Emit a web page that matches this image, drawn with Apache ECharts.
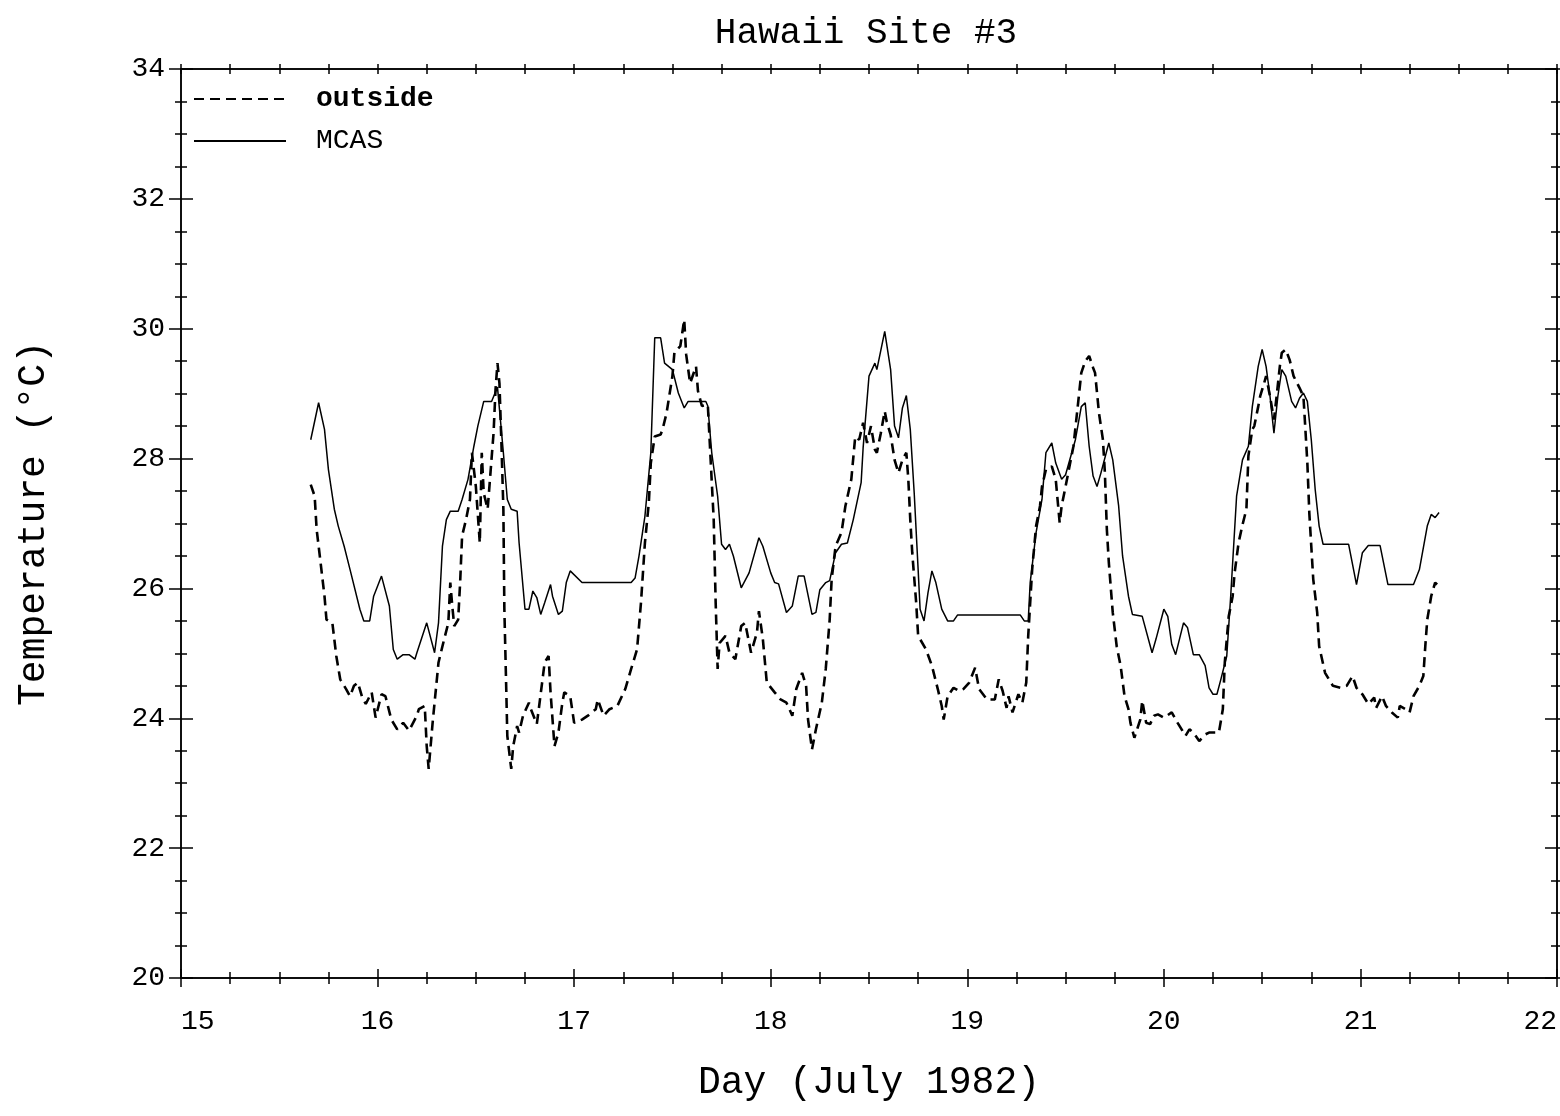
<!DOCTYPE html>
<html>
<head>
<meta charset="utf-8">
<title>Hawaii Site #3</title>
<script src="https://cdn.jsdelivr.net/npm/echarts@6/dist/echarts.min.js"></script>
<style>
  html, body { margin: 0; padding: 0; background: #fff; }
  #chart { width: 1560px; height: 1116px; }
</style>
</head>
<body>
<div id="chart"></div>
<script>
// outside air temperature (dashed)
var outsideDay = [15.66,15.68,15.69,15.71,15.73,15.74,15.77,15.79,15.81,15.84,15.86,15.88,15.90,15.92,15.94,15.97,15.99,16.02,16.04,16.07,16.10,16.13,16.16,16.20,16.21,16.24,16.25,16.26,16.28,16.31,16.33,16.36,16.37,16.38,16.39,16.41,16.42,16.43,16.45,16.47,16.48,16.50,16.52,16.53,16.54,16.56,16.59,16.60,16.61,16.62,16.63,16.64,16.645,16.655,16.66,16.68,16.69,16.71,16.72,16.74,16.77,16.78,16.81,16.82,16.85,16.87,16.88,16.90,16.92,16.94,16.95,16.98,17.00,17.04,17.07,17.11,17.12,17.15,17.18,17.22,17.26,17.29,17.32,17.34,17.36,17.38,17.39,17.41,17.44,17.45,17.47,17.50,17.51,17.54,17.56,17.57,17.59,17.62,17.63,17.65,17.68,17.69,17.71,17.72,17.73,17.74,17.77,17.79,17.82,17.85,17.87,17.90,17.93,17.94,17.96,17.98,18.02,18.05,18.08,18.11,18.13,18.16,18.18,18.19,18.21,18.23,18.26,18.28,18.30,18.31,18.33,18.36,18.38,18.41,18.43,18.45,18.47,18.49,18.51,18.53,18.54,18.56,18.58,18.59,18.61,18.63,18.65,18.67,18.69,18.70,18.71,18.72,18.74,18.75,18.79,18.82,18.85,18.87,18.88,18.90,18.93,18.96,18.98,19.01,19.04,19.06,19.10,19.14,19.16,19.18,19.20,19.21,19.23,19.26,19.28,19.30,19.31,19.32,19.33,19.35,19.37,19.38,19.40,19.43,19.45,19.47,19.48,19.50,19.54,19.56,19.58,19.60,19.62,19.64,19.65,19.67,19.69,19.70,19.71,19.72,19.74,19.76,19.78,19.80,19.82,19.83,19.85,19.88,19.89,19.91,19.93,19.95,19.97,20.00,20.04,20.07,20.11,20.13,20.15,20.18,20.21,20.23,20.28,20.30,20.31,20.33,20.35,20.36,20.38,20.40,20.42,20.43,20.45,20.46,20.48,20.49,20.51,20.52,20.54,20.56,20.57,20.59,20.60,20.62,20.64,20.66,20.69,20.71,20.72,20.73,20.74,20.75,20.76,20.78,20.79,20.82,20.86,20.90,20.93,20.96,20.98,21.01,21.04,21.07,21.08,21.11,21.13,21.16,21.19,21.20,21.23,21.25,21.27,21.30,21.32,21.33,21.34,21.36,21.38,21.39];
var outsideTemp = [27.60,27.42,26.91,26.40,25.88,25.52,25.47,24.96,24.60,24.45,24.34,24.50,24.55,24.34,24.22,24.40,24.01,24.37,24.34,23.98,23.83,23.93,23.81,24.04,24.14,24.19,23.57,23.22,23.93,24.86,25.11,25.47,26.09,25.73,25.42,25.52,26.09,26.81,27.06,27.37,28.09,27.57,26.70,28.09,27.47,27.22,28.39,29.06,29.47,29.16,28.24,27.22,25.68,24.40,23.73,23.22,23.57,23.88,23.78,24.04,24.24,24.14,23.91,24.14,24.86,24.96,24.40,23.57,23.78,24.24,24.40,24.34,23.93,23.98,24.04,24.14,24.29,24.04,24.14,24.19,24.45,24.76,25.06,25.78,26.70,27.32,27.93,28.34,28.37,28.45,28.70,29.27,29.63,29.73,30.14,29.60,29.16,29.42,29.04,28.81,28.83,28.24,27.06,25.78,24.76,25.16,25.27,25.01,24.91,25.42,25.47,25.01,25.32,25.65,25.22,24.55,24.40,24.29,24.24,24.04,24.45,24.70,24.50,23.98,23.52,23.83,24.24,24.76,25.52,26.14,26.65,26.86,27.27,27.68,28.34,28.29,28.55,28.24,28.50,28.14,28.09,28.39,28.73,28.57,28.37,27.98,27.78,27.98,28.09,27.68,27.06,26.55,25.78,25.27,25.06,24.81,24.45,24.19,23.98,24.34,24.47,24.42,24.45,24.55,24.78,24.45,24.29,24.29,24.60,24.42,24.16,24.34,24.09,24.37,24.24,24.55,25.27,25.78,26.29,26.96,27.27,27.57,27.83,27.88,27.68,27.01,27.27,27.57,28.19,28.75,29.32,29.50,29.58,29.40,29.32,28.70,28.29,27.78,26.91,26.40,25.63,25.11,24.81,24.34,24.14,23.93,23.70,23.98,24.27,23.93,23.91,24.04,24.06,24.01,24.09,23.93,23.73,23.83,23.78,23.65,23.75,23.78,23.78,24.14,24.86,25.57,25.88,26.24,26.70,26.98,27.22,28.04,28.45,28.50,28.80,28.96,29.16,29.27,28.96,28.60,28.86,29.42,29.63,29.68,29.52,29.27,29.09,28.96,28.45,27.93,27.16,26.65,26.14,25.63,25.11,24.70,24.50,24.47,24.50,24.65,24.47,24.37,24.22,24.32,24.16,24.34,24.19,24.09,24.01,24.19,24.14,24.09,24.34,24.50,24.65,25.11,25.52,25.88,26.09,26.06];

// MCAS temperature (solid)
var mcasDay = [15.66,15.70,15.73,15.75,15.78,15.80,15.83,15.86,15.91,15.93,15.96,15.98,16.02,16.03,16.06,16.08,16.10,16.13,16.16,16.19,16.20,16.25,16.29,16.31,16.33,16.35,16.37,16.41,16.43,16.46,16.49,16.51,16.54,16.58,16.61,16.64,16.66,16.68,16.71,16.72,16.75,16.77,16.79,16.81,16.83,16.85,16.88,16.89,16.92,16.94,16.96,16.98,16.99,17.04,17.29,17.31,17.33,17.36,17.39,17.41,17.44,17.46,17.50,17.53,17.56,17.58,17.67,17.68,17.70,17.73,17.75,17.77,17.79,17.81,17.85,17.89,17.94,17.96,18.00,18.02,18.04,18.08,18.11,18.14,18.17,18.21,18.23,18.25,18.28,18.30,18.33,18.36,18.39,18.42,18.46,18.47,18.50,18.53,18.54,18.58,18.61,18.63,18.65,18.67,18.69,18.71,18.73,18.75,18.76,18.78,18.80,18.82,18.84,18.87,18.90,18.93,18.95,19.27,19.29,19.31,19.32,19.35,19.38,19.40,19.43,19.45,19.48,19.50,19.55,19.58,19.60,19.62,19.64,19.66,19.68,19.72,19.74,19.77,19.79,19.82,19.84,19.89,19.94,19.96,20.00,20.02,20.04,20.06,20.10,20.12,20.15,20.18,20.21,20.23,20.25,20.27,20.29,20.32,20.34,20.37,20.40,20.43,20.45,20.48,20.50,20.52,20.54,20.56,20.58,20.60,20.62,20.65,20.67,20.69,20.71,20.73,20.75,20.77,20.79,20.81,20.94,20.98,21.01,21.04,21.10,21.14,21.27,21.30,21.34,21.36,21.38,21.40];
var mcasTemp = [28.29,28.86,28.45,27.83,27.22,26.96,26.65,26.29,25.68,25.50,25.50,25.88,26.19,26.19,25.73,25.06,24.91,24.98,24.98,24.91,25.01,25.47,25.01,25.47,26.65,27.06,27.19,27.19,27.37,27.68,28.19,28.50,28.88,28.88,29.10,28.09,27.37,27.22,27.19,26.70,25.68,25.68,25.96,25.86,25.60,25.78,26.06,25.88,25.60,25.65,26.09,26.27,26.27,26.09,26.09,26.16,26.50,27.11,28.09,29.86,29.86,29.47,29.37,29.01,28.78,28.88,28.88,28.81,28.09,27.42,26.68,26.60,26.68,26.50,26.01,26.24,26.78,26.65,26.24,26.09,26.07,25.63,25.73,26.19,26.19,25.60,25.63,25.98,26.09,26.12,26.55,26.68,26.70,27.06,27.63,28.16,29.27,29.47,29.37,29.96,29.37,28.50,28.32,28.78,28.97,28.45,27.47,26.29,25.68,25.50,25.93,26.27,26.09,25.68,25.50,25.50,25.59,25.59,25.50,25.50,26.09,26.86,27.37,28.09,28.24,27.93,27.68,27.75,28.29,28.80,28.86,28.19,27.73,27.57,27.78,28.24,27.98,27.27,26.50,25.88,25.60,25.57,25.01,25.22,25.68,25.57,25.14,24.98,25.47,25.40,24.98,24.98,24.81,24.47,24.37,24.37,24.60,24.96,25.88,27.42,27.98,28.19,28.80,29.42,29.68,29.42,28.96,28.39,28.96,29.37,29.27,28.88,28.78,28.93,29.01,28.88,28.29,27.52,26.96,26.68,26.68,26.06,26.55,26.66,26.66,26.06,26.06,26.29,26.96,27.14,27.09,27.17];

var seriesNames = ['outside', 'MCAS'];
var dayTicks = [15, 22, 1];     // min, max, step
var tempTicks = [20, 34, 2];

function pairs(xs, ys) {
    var out = [];
    for (var i = 0; i < xs.length; i++) out.push([xs[i], ys[i]]);
    return out;
}

var FONT = 'Liberation Mono';
var INK = '#000';

function xAxisOf(position, inside, step, len, minorLen, labels) {
    return {
        type: 'value', position: position, min: dayTicks[0], max: dayTicks[1], interval: step,
        axisLine: {show: true, onZero: false, lineStyle: {color: INK, width: 1.5}},
        axisTick: {show: true, inside: inside, length: len, lineStyle: {color: INK, width: 1.5}},
        minorTick: {show: minorLen > 0, splitNumber: 4, length: minorLen, lineStyle: {color: INK, width: 1.5}},
        axisLabel: labels ? {show: true, color: INK, fontFamily: FONT, fontSize: 28, margin: 30,
            alignMinLabel: 'left', alignMaxLabel: 'right'} : {show: false},
        splitLine: {show: false},
        name: labels ? 'Day (July 1982)' : '',
        nameLocation: 'middle', nameGap: 86,
        nameTextStyle: {color: INK, fontFamily: FONT, fontSize: 38}
    };
}

function yAxisOf(position, inside, labels) {
    return {
        type: 'value', position: position, min: tempTicks[0], max: tempTicks[1], interval: tempTicks[2],
        axisLine: {show: true, onZero: false, lineStyle: {color: INK, width: 1.5}},
        axisTick: {show: true, inside: inside, length: 12, lineStyle: {color: INK, width: 1.5}},
        minorTick: {show: true, splitNumber: 4, length: 6, lineStyle: {color: INK, width: 1.5}},
        axisLabel: labels ? {show: true, color: INK, fontFamily: FONT, fontSize: 28, margin: 16} : {show: false},
        splitLine: {show: false},
        name: labels ? 'Temperature (°C)' : '',
        nameLocation: 'middle', nameGap: 128, nameRotate: 90,
        nameTextStyle: {color: INK, fontFamily: FONT, fontSize: 38}
    };
}

var chart = echarts.init(document.getElementById('chart'), null, {renderer: 'canvas'});
chart.setOption({
    backgroundColor: '#fff',
    animation: false,
    title: {
        text: 'Hawaii Site #3', left: 861, top: 10, textAlign: 'center',
        textStyle: {color: INK, fontFamily: FONT, fontSize: 36, fontWeight: 'normal'}
    },
    grid: {left: 181, right: 2, top: 69, bottom: 138},
    legend: {
        data: seriesNames, orient: 'vertical', left: 193, top: 85, padding: 0,
        itemWidth: 92, itemHeight: 20, itemGap: 14,
        itemStyle: {opacity: 0},
        textStyle: {color: INK, fontFamily: FONT, fontSize: 28, lineHeight: 28, padding: [0, 0, 0, 25],
            rich: {b: {fontFamily: FONT, fontSize: 28, fontWeight: 'bold', color: INK}}},
        formatter: function (name) { return name === 'outside' ? '{b|' + name + '}' : name; }
    },
    xAxis: [
        xAxisOf('bottom', false, dayTicks[2], 9, 6, true),
        xAxisOf('bottom', true, dayTicks[2], 9, 6, false),
        xAxisOf('top', false, 0.25, 5, 0, false),
        xAxisOf('top', true, 0.25, 5, 0, false)
    ],
    yAxis: [
        yAxisOf('left', false, true),
        yAxisOf('left', true, false),
        yAxisOf('right', false, false),
        yAxisOf('right', true, false)
    ],
    series: [
        {
            name: seriesNames[0], type: 'line', xAxisIndex: 0, yAxisIndex: 0,
            symbol: 'none', color: INK,
            lineStyle: {color: INK, width: 2.6, type: [10, 6]},
            data: pairs(outsideDay, outsideTemp)
        },
        {
            name: seriesNames[1], type: 'line', xAxisIndex: 0, yAxisIndex: 0,
            symbol: 'none', color: INK,
            lineStyle: {color: INK, width: 1.5, type: 'solid'},
            data: pairs(mcasDay, mcasTemp)
        }
    ]
});
</script>
</body>
</html>
